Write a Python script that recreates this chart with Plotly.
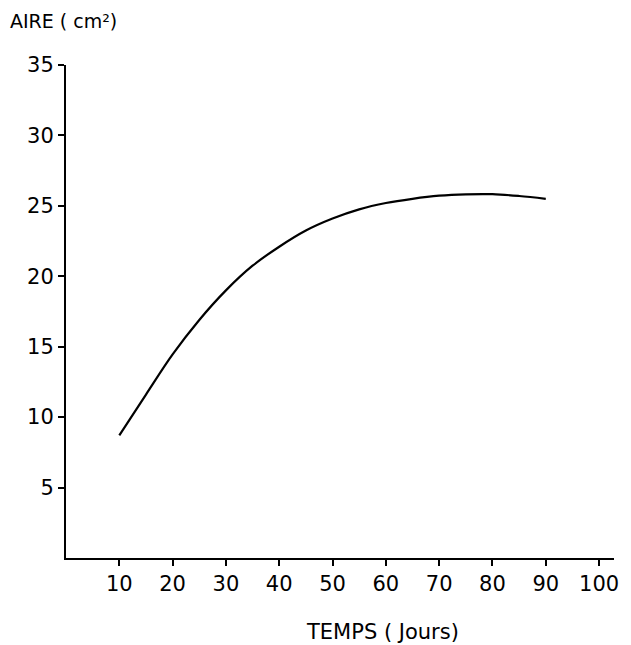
import plotly.graph_objects as go

# Leaf area over time
jours = [10, 15, 20, 25, 30, 35, 40, 45, 50, 55, 60, 65, 70, 75, 80, 85, 90]
aire = [8.7, 11.6, 14.45, 16.9, 19.0, 20.75, 22.1, 23.25, 24.1, 24.75, 25.2, 25.5, 25.72, 25.82, 25.83, 25.7, 25.5]

x_ticks = [10, 20, 30, 40, 50, 60, 70, 80, 90, 100]
y_ticks = [5, 10, 15, 20, 25, 30, 35]

font_family = "DejaVu Sans"

fig = go.Figure()
fig.add_trace(go.Scatter(
    x=jours, y=aire, mode="lines",
    line=dict(color="black", width=2.2, shape="spline", smoothing=1.0),
    hoverinfo="skip", showlegend=False,
))

fig.update_layout(
    width=631, height=645,
    margin=dict(l=66, r=14, t=65, b=87),
    paper_bgcolor="white", plot_bgcolor="white",
    font=dict(family=font_family, color="black", size=21),
    xaxis=dict(
        range=[0, 102.8], tickvals=x_ticks, ticktext=[str(v) for v in x_ticks],
        showgrid=False, zeroline=False, showline=True, linecolor="black", linewidth=2,
        ticks="outside", ticklen=6, tickwidth=1.5, tickcolor="black",
        tickfont=dict(size=21),
    ),
    yaxis=dict(
        range=[0, 35], tickvals=y_ticks, ticktext=[str(v) for v in y_ticks],
        showgrid=False, zeroline=False, showline=True, linecolor="black", linewidth=2,
        ticks="outside", ticklen=6, tickwidth=1.5, tickcolor="black",
        tickfont=dict(size=21),
    ),
    annotations=[
        dict(text="AIRE ( cm²)", xref="paper", yref="paper",
             x=-58 / 551, y=1 + 44 / 493, xanchor="left", yanchor="middle",
             showarrow=False, font=dict(size=19)),
        dict(text="TEMPS ( Jours)", xref="x", yref="paper",
             x=59.3, y=-74 / 493, xanchor="center", yanchor="middle",
             showarrow=False, font=dict(size=21)),
    ],
)

fig.write_html("out.html")
